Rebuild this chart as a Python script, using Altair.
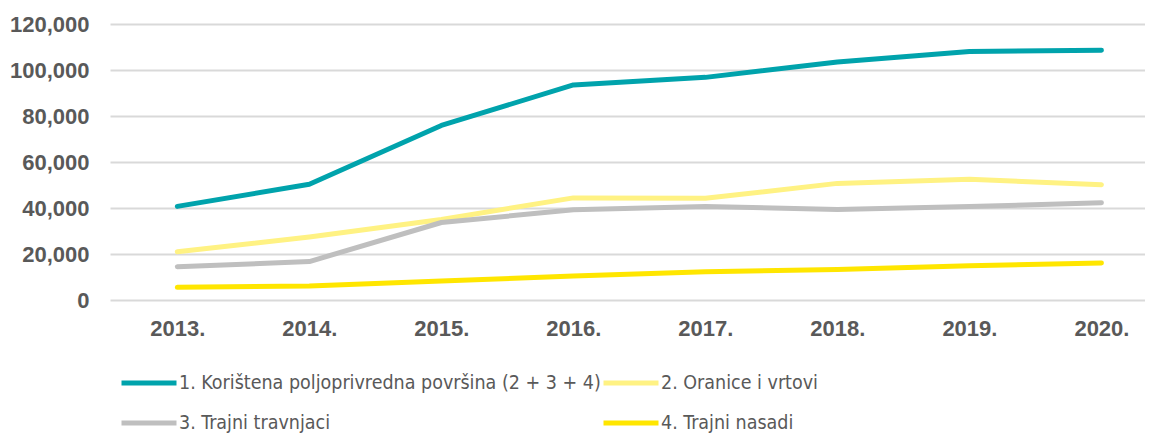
import altair as alt
import pandas as pd

years = [2013, 2014, 2015, 2016, 2017, 2018, 2019, 2020]
series_names = [
    "1. Korištena poljoprivredna površina (2 + 3 + 4)",
    "2. Oranice i vrtovi",
    "3. Trajni travnjaci",
    "4. Trajni nasadi",
]
s1 = [40700, 50300, 75900, 93500, 96800, 103500, 108000, 108600]
s2 = [21000, 27400, 35000, 44400, 44200, 50700, 52500, 50100]
s3 = [14500, 16700, 33700, 39200, 40700, 39400, 40600, 42300]
s4 = [5500, 6100, 8300, 10400, 12300, 13300, 14900, 16100]
colors = ["#00A3AC", "#FFF283", "#BFBFBF", "#FFE600"]

rows = []
for name, vals in zip(series_names, [s1, s2, s3, s4]):
    for y, v in zip(years, vals):
        rows.append({"year": y, "value": v, "series": name})
df = pd.DataFrame(rows)

chart = alt.Chart(df).mark_line(strokeWidth=5, strokeCap="round", strokeJoin="round").encode(
    x=alt.X("year:Q",
            scale=alt.Scale(domain=[2012.49, 2020.33], nice=False, zero=False),
            axis=alt.Axis(values=years, labelExpr="datum.value + '.'", grid=False,
                          ticks=False, domain=False, labelPadding=18,
                          labelFontSize=22, labelColor="#595959",
                          labelFont="Liberation Sans", labelFontWeight="bold",
                          title=None)),
    y=alt.Y("value:Q",
            scale=alt.Scale(domain=[0, 120000], nice=False),
            axis=alt.Axis(values=[0, 20000, 40000, 60000, 80000, 100000, 120000],
                          format=",.0f", ticks=False, domain=False, labelPadding=21,
                          labelFontSize=22, labelColor="#595959",
                          labelFont="Liberation Sans", labelFontWeight="bold",
                          gridColor="#D9D9D9", gridWidth=2, title=None)),
    color=alt.Color("series:N",
                    scale=alt.Scale(domain=series_names, range=colors),
                    legend=alt.Legend(orient="none", legendX=9, legendY=329,
                                      columns=2, direction="horizontal", title=None,
                                      symbolType="stroke", symbolSize=3025,
                                      symbolStrokeWidth=5,
                                      labelFont="'DejaVu Sans Condensed', Roboto, sans-serif",
                                      labelFontSize=19.5, labelColor="#595959",
                                      labelOffset=0, columnPadding=-12,
                                      rowPadding=-14, padding=0,
                                      labelLimit=600)),
).properties(
    width=1035, height=276,
    autosize=alt.AutoSizeParams(type="none"),
    padding={"left": 102, "top": 16, "right": 0, "bottom": 150},
).configure_view(stroke=None)

chart.save("out.html", embed_options={"renderer": "svg", "actions": False})
